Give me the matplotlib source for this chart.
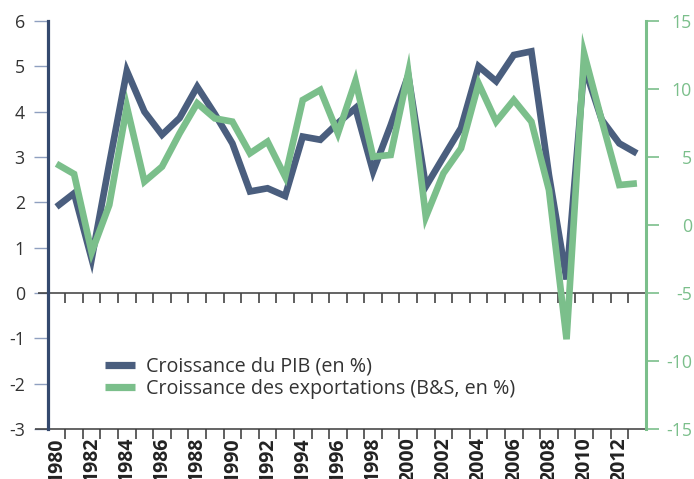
import matplotlib
matplotlib.use("Agg")
import matplotlib.pyplot as plt
from matplotlib.lines import Line2D

plt.rcParams['font.family'] = ['Open Sans', 'DejaVu Sans']
plt.rcParams['lines.solid_capstyle'] = 'butt'

years = list(range(1980, 2014))
gdp = [1.9, 2.2, 0.75, 2.85, 4.9, 4.0, 3.49, 3.86, 4.55, 3.95, 3.3, 2.24, 2.31, 2.14,
       3.45, 3.38, 3.75, 4.08, 2.68, 3.7, 4.8, 2.35, 3.0, 3.64, 5.0, 4.67, 5.25, 5.33,
       2.6, 0.3, 5.0, 3.82, 3.3, 3.08]
exports = [4.5, 3.75, -2.0, 1.47, 8.7, 3.19, 4.29, 6.74, 8.95, 7.84, 7.6, 5.27, 6.13, 3.55,
           9.19, 9.93, 6.74, 10.6, 5.02, 5.15, 11.2, 0.6, 3.8, 5.64, 10.4, 7.6, 9.19, 7.6,
           2.57, -8.4, 12.6, 7.7, 2.94, 3.06]
label_years = list(range(1980, 2013, 2))
left_ticks = [-3, -2, -1, 0, 1, 2, 3, 4, 5, 6]
right_ticks = [-15, -10, -5, 0, 5, 10, 15]
series_names = ["Croissance du PIB (en %)", "Croissance des exportations (B&S, en %)"]

NAVY = "#4a5e7e"
GREEN = "#7bbf8b"
SPINE_NAVY = "#34496e"
TXT = "#333333"
AXLINE = "#3a3a3a"

fig = plt.figure(figsize=(6.94, 4.79), dpi=100)
ax = fig.add_axes([47.7 / 694, 1 - 429 / 479, (645.7 - 47.7) / 694, (429 - 21) / 479])
ax2 = ax.twinx()

ax.plot(years, gdp, color=NAVY, lw=4.8, solid_joinstyle='miter', zorder=3)
ax2.plot(years, exports, color=GREEN, lw=4.8, solid_joinstyle='miter', zorder=3)

ax.set_xlim(1979.5, 2013.5)
ax.set_ylim(-3, 6)
ax2.set_ylim(-15, 15)

for a in (ax, ax2):
    a.spines['top'].set_visible(False)
    a.spines['bottom'].set_visible(False)
ax.spines['right'].set_visible(False)
ax2.spines['left'].set_visible(False)
ax.spines['left'].set_color(SPINE_NAVY)
ax.spines['left'].set_linewidth(2.3)
ax2.spines['right'].set_color(GREEN)
ax2.spines['right'].set_linewidth(2.2)

# left axis
ax.set_yticks(left_ticks)
ax.set_yticklabels([str(t) for t in left_ticks])
ax.tick_params(axis='y', length=10, width=1.0, color="#8fa0c0", pad=6.5,
               labelsize=12.8, labelcolor=TXT)

# right axis
ax2.set_yticks(right_ticks)
ax2.set_yticklabels([str(t) for t in right_ticks])
ax2.tick_params(axis='y', length=9.4, width=1.2, color=GREEN, pad=23.8,
                labelsize=12.8, labelcolor=GREEN)
for lab in ax2.get_yticklabels():
    lab.set_horizontalalignment('right')

# x axis
ax.set_xticks(label_years)
ax.set_xticklabels([str(y) for y in label_years], rotation=90, fontsize=14,
                   fontweight='bold', color="#222222")
ax.set_xticks([y + 0.5 for y in years[:-1]], minor=True)
ax.tick_params(axis='x', which='major', length=0, pad=5.8)
ax.tick_params(axis='x', which='minor', length=7.2, width=1.2, color="#444444", direction='out')

# zero line and bottom line, extended a bit left of the spine
trans = ax.get_yaxis_transform()
ax.plot([-0.016, 1], [0, 0], transform=trans, color=AXLINE, lw=1.1, clip_on=False, zorder=2)
ax.plot([-0.021, 1], [-3, -3], transform=trans, color=AXLINE, lw=1.1, clip_on=False, zorder=2)
tick_x = [y + 0.5 for y in years[:-1]]
ax.plot(tick_x, [0] * len(tick_x), linestyle='none', marker=3, markersize=7.2,
        markeredgewidth=1.2, color="#444444", clip_on=False, zorder=2)

handles = [Line2D([], [], color=NAVY, lw=5.2), Line2D([], [], color=GREEN, lw=5.2)]
leg = ax2.legend(handles, series_names, loc='center left', bbox_to_anchor=(0.0958, 0.125),
                 frameon=False, fontsize=14.2, handlelength=1.52, handletextpad=0.56,
                 labelspacing=0.13, borderpad=0, borderaxespad=0)
for t in leg.get_texts():
    t.set_color(TXT)

fig.savefig("out.png", dpi=100)
